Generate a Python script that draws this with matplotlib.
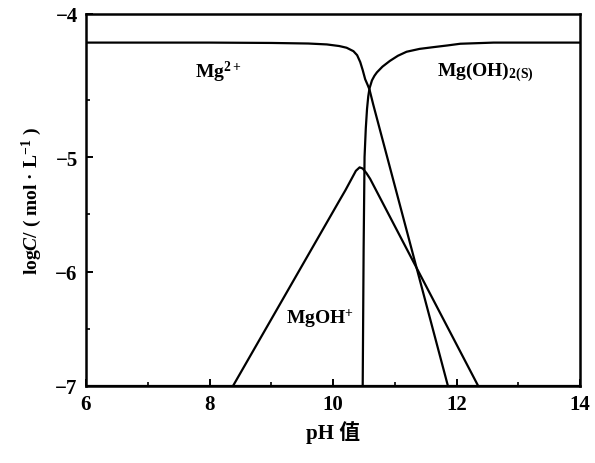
import matplotlib
matplotlib.use("Agg")
import matplotlib.pyplot as plt
from matplotlib.ticker import MultipleLocator, FixedLocator

plt.rcParams['font.family'] = ['Liberation Serif', 'Noto Sans CJK SC']
plt.rcParams['font.weight'] = 'bold'
plt.rcParams['mathtext.fontset'] = 'custom'
plt.rcParams['mathtext.rm'] = 'Liberation Serif:bold'
plt.rcParams['mathtext.it'] = 'Liberation Serif:bold:italic'
plt.rcParams['mathtext.bf'] = 'Liberation Serif:bold'
plt.rcParams['axes.unicode_minus'] = True

# Data (pH, logC)
mg2_ph = [6.0, 8.0, 9.0, 9.6, 9.9, 10.1, 10.22, 10.33, 10.39, 10.44, 10.48, 10.52,
          10.56, 10.59, 10.65, 11.86]
mg2_logc = [-4.0, -4.0, -4.003, -4.008, -4.016, -4.03, -4.045, -4.075, -4.11, -4.17,
            -4.24, -4.32, -4.37, -4.41, -4.54, -7.0]

mgoh2_ph = [10.48, 10.495, 10.51, 10.53, 10.55, 10.57, 10.59, 10.63, 10.67, 10.71,
            10.80, 10.92, 11.05, 11.19, 11.40, 11.62, 11.85, 12.06, 12.6, 13.3, 14.0]
mgoh2_logc = [-7.0, -5.8, -5.0, -4.75, -4.58, -4.47, -4.40, -4.33, -4.29, -4.26,
              -4.21, -4.16, -4.115, -4.08, -4.055, -4.04, -4.025, -4.01, -4.0, -4.0, -4.0]

mgoh_ph = [8.38, 10.1, 10.2, 10.3, 10.37, 10.43, 10.48, 10.54, 10.6, 12.35]
mgoh_logc = [-7.0, -5.383, -5.29, -5.19, -5.12, -5.09, -5.10, -5.14, -5.19, -7.0]

bottom_ph = [6.0, 14.0]
bottom_logc = [-7.0, -7.0]

labels = ['Mg$^{2+}$', 'Mg(OH)$_{\\mathrm{2(S)}}$', 'MgOH$^{+}$']
label_ph = [8.14, 12.46, 9.79]
label_logc = [-4.25, -4.25, -6.40]

x_ticks = [6, 8, 10, 12, 14]
y_ticks = [-7, -6, -5]
y_tick_labels = ['\u22127', '\u22126', '\u22125', '\u22124']
y_top = -3.75

fig = plt.figure(figsize=(5.95, 4.64), dpi=100)
ax = fig.add_axes([0.1445, 0.166, 0.8305, 0.8017])

lw = 1.6
ax.plot(mg2_ph, mg2_logc, color='black', lw=lw, solid_joinstyle='round')
ax.plot(mgoh2_ph, mgoh2_logc, color='black', lw=lw, solid_joinstyle='round')
ax.plot(mgoh_ph, mgoh_logc, color='black', lw=lw, solid_joinstyle='round')
ax.plot(bottom_ph, bottom_logc, color='black', lw=lw)

for t, x, y in zip(labels, label_ph, label_logc):
    ax.text(x, y, t, fontsize=14, ha='center', va='center', fontweight='bold')

ax.set_xlim(6, 14)
ax.set_ylim(-7, y_top)
ax.set_xticks(x_ticks)
ax.xaxis.set_minor_locator(MultipleLocator(1))
ax.set_yticks(y_ticks + [y_top])
ax.set_yticklabels(y_tick_labels)
ax.yaxis.set_minor_locator(FixedLocator([-6.5, -5.5, -4.5]))

ax.tick_params(axis='both', which='major', direction='in', length=5, width=1.4,
               labelsize=15, pad=6)
ax.tick_params(axis='both', which='minor', direction='in', length=3, width=1.2)
for lab in ax.get_xticklabels() + ax.get_yticklabels():
    lab.set_fontweight('bold')

for s in ax.spines.values():
    s.set_linewidth(1.8)

ax.set_xlabel('pH 值', fontsize=15, fontweight='bold', labelpad=4)
ax.set_ylabel(r'log$\it{C}$/ ( mol · L$^{-1}$ )', fontsize=14, fontweight='bold', labelpad=8)

fig.savefig('out.png', dpi=100)
